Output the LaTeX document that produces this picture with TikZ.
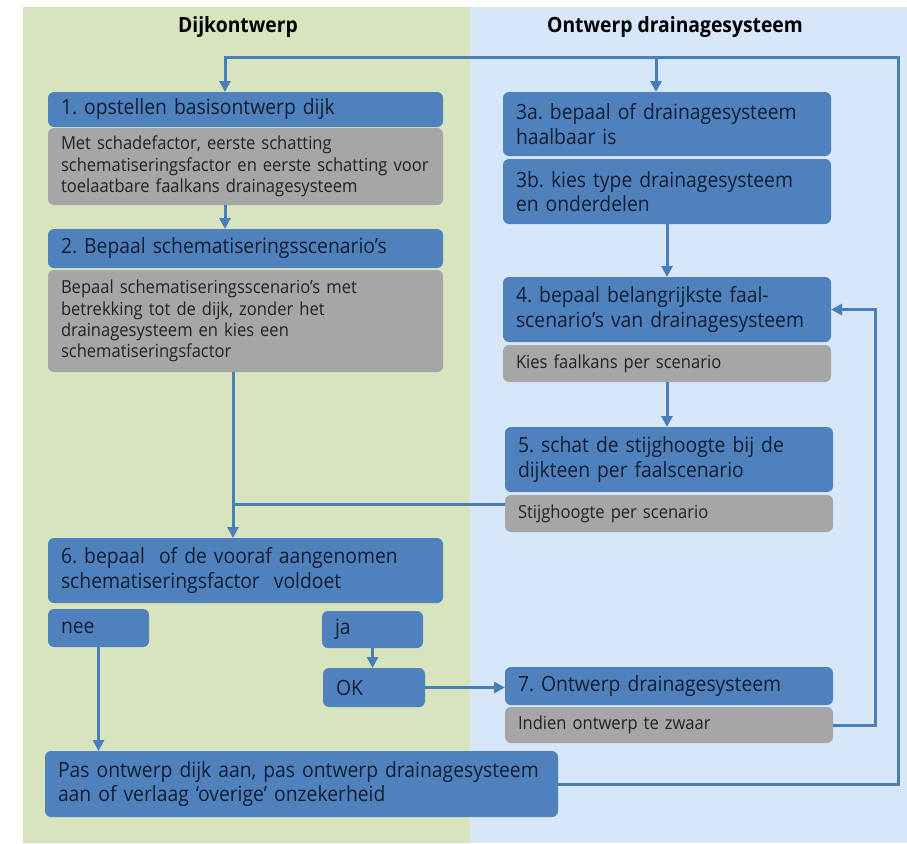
\documentclass[tikz,border=0pt]{standalone}
\usepackage{fontspec}
\setmainfont{Open Sans}[FakeStretch=0.92]
\usetikzlibrary{arrows.meta}
\definecolor{bggreen}{HTML}{D7E4BD}
\definecolor{bgblue}{HTML}{D8E6FA}
\definecolor{boxblue}{HTML}{4F81BD}
\definecolor{boxgray}{HTML}{A6A6A6}
\definecolor{linkblue}{HTML}{4A7EBB}
\definecolor{navytext}{HTML}{111E33}
\definecolor{graytext}{HTML}{222222}
\frenchspacing
\newcommand\flowbox[7]{%
  \pgfmathsetmacro\fbW{#5-#3}%
  \pgfmathsetmacro\fbH{#6-#4}%
  \pgfmathsetmacro\fbT{#5-#3-26}%
  \node[#1, anchor=north west, minimum width=\fbW pt, minimum height=\fbH pt, text width=\fbT pt] (#2) at (#3,#4) {#7};}
\tikzset{
  basebox/.style={rounded corners=6pt, inner xsep=13pt, inner ysep=1pt, outer sep=0pt, align=left},
  bluebox/.style={basebox, fill=boxblue, text=navytext, font=\fontsize{21}{24.5}\selectfont},
  graybox/.style={basebox, fill=boxgray, text=graytext, font=\fontsize{18}{21.3}\selectfont},
  lanetitle/.style={font=\bfseries\fontsize{21}{24}\selectfont, text=black},
  conn/.style={draw=linkblue, line width=3pt},
  arr/.style={conn, -{Triangle[width=11pt,length=11pt]}}
}
\begin{document}
\begin{tikzpicture}[x=1pt,y=-1pt]
\useasboundingbox (0,0) rectangle (907,843);
\fill[white] (0,0) rectangle (907,843);
\fill[bggreen] (23,7) rectangle (470,843);
\fill[bgblue] (470,7) rectangle (907,843);
\node[lanetitle] (t1) at (238,27) {Dijkontwerp};
\node[lanetitle] (t2) at (675,27) {Ontwerp drainagesysteem};
% left column
\flowbox{bluebox}{b1}{48}{92}{443}{127}{1. opstellen basisontwerp dijk}
\flowbox{graybox}{g1}{48}{128}{443}{205}{Met schadefactor, eerste schatting\\schematiseringsfactor en eerste schatting voor\\toelaatbare faalkans drainagesysteem}
\flowbox{bluebox}{b2}{48}{229}{443}{268}{2. Bepaal schematiseringsscenario’s}
\flowbox{graybox}{g2}{48}{270}{443}{372}{Bepaal schematiseringsscenario’s met\\betrekking tot de dijk, zonder het\\drainagesysteem en kies een\\schematiseringsfactor}
\flowbox{bluebox}{b6}{48}{538}{443}{603}{6. bepaal\ \ of de vooraf aangenomen\\schematiseringsfactor\ \ voldoet}
\flowbox{bluebox}{nee}{48}{609}{149}{647}{nee}
\flowbox{bluebox}{ja}{322}{611}{423}{648}{ja}
\flowbox{bluebox}{ok}{323}{668}{425}{707}{OK}
\flowbox{bluebox}{fin}{45}{751}{558}{817}{Pas ontwerp dijk aan, pas ontwerp drainagesysteem\\aan of verlaag ‘overige’ onzekerheid}
% right column
\flowbox{bluebox}{b3a}{503}{92}{831}{156}{3a. bepaal of drainagesysteem\\haalbaar is}
\flowbox{bluebox}{b3b}{503}{159}{831}{224}{3b. kies type drainagesysteem\\en onderdelen}
\flowbox{bluebox}{b4}{503}{277}{831}{342}{4. bepaal belangrijkste faal-\\scenario’s van drainagesysteem}
\flowbox{graybox}{g4}{503}{345}{831}{382}{Kies faalkans per scenario}
\flowbox{bluebox}{b5}{505}{427}{833}{492}{5. schat de stijghoogte bij de\\dijkteen per faalscenario}
\flowbox{graybox}{g5}{505}{495}{833}{532}{Stijghoogte per scenario}
\flowbox{bluebox}{b7}{505}{667}{833}{705}{7. Ontwerp drainagesysteem}
\flowbox{graybox}{g7}{505}{707}{833}{743}{Indien ontwerp te zwaar}
% helper coordinates
\coordinate (rtop) at (898,58);
\coordinate (ltop) at (225,58);
\coordinate (mtop) at (656,58);
\coordinate (rloop) at (875,0);
\coordinate (vleft) at (233,0);
\coordinate (join) at (233,504);
% connectors
\draw[arr] (fin.east) -| (rtop) -- (ltop) -- (ltop |- b1.north);
\draw[arr] (mtop) -- (mtop |- b3a.north);
\draw[arr] (g1.south -| ltop) -- (b2.north -| ltop);
\draw[arr] (g2.south -| vleft) -- (b6.north -| vleft);
\draw[conn] (g5.west |- join) -- (join);
\draw[arr] (b3b.south) -- (b3b.south |- b4.north);
\draw[arr] (g4.south) -- (g4.south |- b5.north);
\draw[arr] (g7.east) -- (g7.east -| rloop) -- (rloop |- b4.east) -- (b4.east);
\draw[arr] (nee.south) -- (nee.south |- fin.north);
\draw[arr] (ja.south) -- (ja.south |- ok.north);
\draw[arr] (ok.east) -- (ok.east -| b7.west);
\end{tikzpicture}
\end{document}
